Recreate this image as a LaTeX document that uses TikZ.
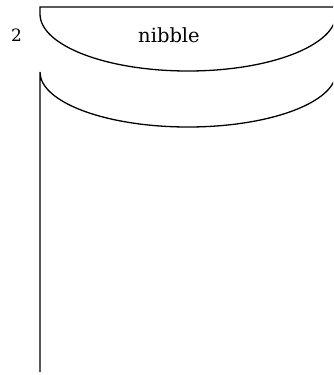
\documentclass[tikz,border=0pt]{standalone}
\usepackage{fontspec}
\setmainfont{DejaVu Serif}
\tikzset{
  outline/.style={line width=1.3pt, black},
  lbl/.style={inner sep=0pt, font=\fontsize{19.5}{19.5}\selectfont},
  num/.style={inner sep=0pt, font=\fontsize{17}{17}\selectfont}
}
\begin{document}
\begin{tikzpicture}[x=1pt,y=1pt]
\useasboundingbox (0,0) rectangle (333,-375);
\clip (0,0) rectangle (333,-375);
% upper part: top edge and first curve
\draw[outline] (340,-7) -- (40,-7) -- (40,-14)
  arc[start angle=180, end angle=360, x radius=148pt, y radius=57pt];
% lower part: vertical side and second curve
\draw[outline] (40,-372) -- (40,-72)
  arc[start angle=180, end angle=360, x radius=148pt, y radius=55pt];
\node[lbl, anchor=base] (name) at (169,-42) {nibble};
\node[num, anchor=base] (idx) at (16.5,-41) {2};
\end{tikzpicture}
\end{document}
